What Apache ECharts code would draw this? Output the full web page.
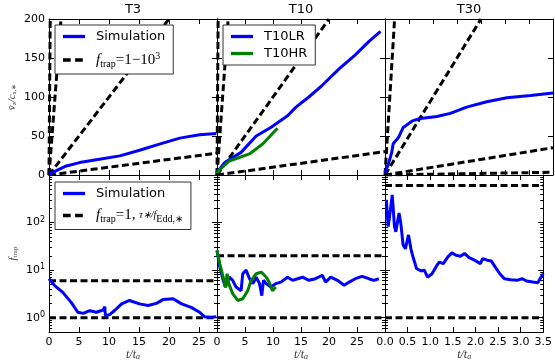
<!DOCTYPE html>
<html>
<head>
<meta charset="utf-8">
<script src="https://cdn.jsdelivr.net/npm/echarts@6/dist/echarts.min.js"></script>
<style>
html, body { margin: 0; padding: 0; background: #fff; }
#main { width: 555px; height: 364px; }
</style>
</head>
<body>
<div id="main"></div>
<script>
// panels (columns)
var titles = ['T3', 'T10', 'T30'];
var xMax = [28, 30, 3.5];
var xStep = [5, 5, 0.5];

// top row: mean vz / c_s,* against t/t_a
var t3Time = [0, 0.1, 2.9, 5.1, 8.4, 11.8, 15.1, 18.4, 21.8, 25.1, 27.9];
var t3Vz = [1, 2, 11.6, 15.9, 20.2, 24.5, 31.8, 39.6, 47.3, 51.6, 53.3];
var t10lrTime = [0, 0.2, 1.4, 4.3, 7, 9.6, 12.6, 14.1, 16.4, 18.8, 21.8, 24.7, 27.1, 29.2];
var t10lrVz = [2, 5, 16, 29, 50, 61, 76, 87, 100, 115, 136, 154, 171, 184];
var t10hrTime = [0, 0.2, 2.2, 5.8, 8.2, 10.8];
var t10hrVz = [2, 5, 18, 27, 40, 60];
var t30Time = [0, 0.07, 0.14, 0.17, 0.28, 0.38, 0.56, 0.7, 1.08, 1.36, 1.7, 2.12, 2.54, 3.03, 3.5];
var t30Vz = [3, 14, 29, 40, 48, 61, 69, 72, 75, 79, 87, 94, 99, 102, 105];

// f_trap = 1, 10, 100, 1000 guide lines: [t0, v0, t1, v1]
var t3Guides = [[0, 0, 28, 28], [0, 0, 20, 200], [0, 0, 2, 200], [0, 0, 0.2, 200]];
var t10Guides = [[0, 0, 30, 30], [0, 0, 20, 200], [0, 0, 2, 200], [0, 0, 0.2, 200]];
var t30Guides = [[0, 0, 3.5, 3.5], [0, 0, 3.5, 35], [0, 0, 2, 200], [0, 0, 0.2, 200]];

// bottom row: f_trap against t/t_a
var t3fTime = [0, 0.9, 2.3, 3.7, 4.8, 5.7, 6.8, 7.9, 9, 9.3, 9.4, 10.1, 10.9, 12.1, 13.4, 15.1, 16.5, 17.9, 19, 20.7, 22.1, 23.7, 25.1, 25.9, 27, 27.9];
var t3fTrap = [6.6, 4.8, 3.4, 2.1, 1.3, 1.23, 1.4, 1.3, 1.45, 1.7, 1.1, 1.16, 1.4, 1.95, 2.3, 1.95, 1.8, 2.0, 2.4, 2.5, 1.95, 1.65, 1.3, 1.05, 1.02, 1.05];
var t10lrfTime = [0, 0.5, 1.1, 1.5, 2.2, 2.8, 3.4, 4.3, 4.6, 5.2, 5.8, 6.4, 7, 7.6, 8, 8.3, 8.8, 9.6, 10.5, 11.4, 12.6, 13.5, 14.4, 15.3, 16.4, 17.6, 18.8, 19.4, 20.3, 21.5, 22.7, 23.6, 24.7, 25.9, 27.1, 28, 28.9];
var t10lrfTrap = [26, 11.7, 6.1, 4.4, 7.1, 6.1, 4.4, 3.7, 8.4, 10, 6.6, 5.2, 7.1, 5.2, 2.9, 6.1, 5.2, 4.4, 5.2, 5.6, 7.1, 6.1, 6.6, 7.1, 6.1, 6.6, 7.8, 5.6, 7.1, 6.1, 4.8, 5.6, 6.6, 7.4, 6.6, 6.1, 6.6];
var t10hrfTime = [0, 0.5, 1.1, 1.5, 1.8, 2.1, 2.8, 3.7, 4.6, 5.5, 6.1, 7, 7.9, 8.8, 9.3, 9.9, 10.5];
var t10hrfTrap = [26, 13.7, 7.1, 4.4, 8.4, 5.2, 3.2, 2.3, 2.5, 3.7, 6.1, 8.4, 9.1, 7.1, 5.6, 3.7, 4.4];
var t30fTime = [0.03, 0.07, 0.12, 0.16, 0.21, 0.24, 0.31, 0.35, 0.4, 0.45, 0.52, 0.58, 0.63, 0.7, 0.8, 0.87, 0.94, 1.04, 1.15, 1.2, 1.29, 1.39, 1.48, 1.57, 1.67, 1.76, 1.86, 1.98, 2.11, 2.16, 2.26, 2.35, 2.44, 2.54, 2.64, 2.78, 2.92, 3.03, 3.13, 3.27, 3.38, 3.43, 3.5];
var t30fTrap = [302, 82, 186, 382, 82, 64, 158, 96, 34, 28, 55, 26, 17.5, 10.7, 9.6, 10, 7.1, 8.4, 12.6, 14.8, 13.7, 19, 23, 20.6, 19.6, 22.4, 18.3, 16.2, 13.7, 17.5, 16.2, 15.6, 11.6, 8.4, 6.6, 6.3, 6.1, 6.6, 5.9, 5.6, 5.4, 6.6, 8.4];

// horizontal f_trap = 1 and tau_*/f_Edd,* levels
var t3Levels = [1, 6];
var t10Levels = [1, 20];
var t30Levels = [1, 600];

var yTop = [0, 200];
var yLog = [0.5, 1000];

var gridLeft = [49, 217, 385];
var rowTop = [19, 175];
var rowHeight = [156, 157];

var solidIcon = 'path://M0,0H20V3H0Z';
var dashIcon = 'path://M0,0H7V3H0Z M11,0H18V3H11Z M20,0H20V3H20Z';

var mathFont = 'Liberation Serif';
var mathRich = {
    m: { fontFamily: mathFont, fontStyle: 'italic', fontSize: 15, color: '#000', lineHeight: 18 },
    r: { fontFamily: mathFont, fontSize: 15, color: '#000', lineHeight: 18 },
    sub: { fontFamily: mathFont, fontSize: 10, color: '#000', lineHeight: 12, verticalAlign: 'bottom' },
    sup: { fontFamily: mathFont, fontSize: 10, color: '#000', lineHeight: 12, verticalAlign: 'top' },
    fr: { fontFamily: mathFont, fontStyle: 'italic', fontSize: 10, color: '#000', lineHeight: 18 }
};
var legendText = {
    'Simulation': 'Simulation',
    'T10LR': 'T10LR',
    'T10HR': 'T10HR',
    'ftrapTop': '{m|f}{sub|trap}{r|=1\u221210}{sup|3}',
    'ftrapBottom': '{m|f}{sub|trap}{r|=1, }{fr|\u03c4\u2217/f}{sub|Edd,\u2217}'
};

function pairs(xs, ys) {
    return xs.map(function (x, i) { return [x, ys[i]]; });
}

var grids = [], xAxes = [], yAxes = [], series = [];

function makeAxes(col, row) {
    var gi = grids.length;
    grids.push({ left: gridLeft[col], top: rowTop[row], width: 168, height: rowHeight[row] });
    var tick = { show: true, inside: true, length: 5, lineStyle: { color: '#000', width: 1 } };
    var line = { show: true, onZero: false, lineStyle: { color: '#000', width: 1 } };
    for (var k = 0; k < 2; k++) {
        var bottomLabels = (row === 1 && k === 0);
        xAxes.push({
            gridIndex: gi, type: 'value', position: k === 0 ? 'bottom' : 'top',
            min: 0, max: xMax[col], interval: xStep[col],
            axisLine: line, axisTick: tick, splitLine: { show: false },
            axisLabel: {
                show: bottomLabels, color: '#000', fontFamily: 'DejaVu Sans', fontSize: 11, margin: 5,
                showMaxLabel: col === 2,
                formatter: function (v) { return col === 2 ? v.toFixed(1) : String(v); }
            },
            name: bottomLabels ? '{v|t/t}{s|a}' : '',
            nameLocation: 'middle', nameGap: 17,
            nameTextStyle: {
                rich: {
                    v: { fontFamily: mathFont, fontStyle: 'italic', fontSize: 12, color: '#333' },
                    s: { fontFamily: mathFont, fontStyle: 'italic', fontSize: 8, color: '#333', verticalAlign: 'bottom', lineHeight: 10 }
                }
            }
        });
        var leftLabels = (col === 0 && k === 0);
        var y = {
            gridIndex: gi, position: k === 0 ? 'left' : 'right',
            axisLine: line, axisTick: tick, splitLine: { show: false },
            nameLocation: 'middle', nameRotate: 90
        };
        if (row === 0) {
            y.type = 'value';
            y.min = yTop[0];
            y.max = yTop[1];
            y.interval = 50;
            y.axisLabel = { show: leftLabels, color: '#000', fontFamily: 'DejaVu Sans', fontSize: 11, margin: 4 };
            y.name = leftLabels ? '{v|v\u0304}{s|z}{v|/c}{s|s,\u2217}' : '';
            y.nameGap = 31;
        } else {
            y.type = 'log';
            y.logBase = 10;
            y.min = yLog[0];
            y.max = yLog[1];
            y.minorTick = { show: true, splitNumber: 9, length: 3, lineStyle: { color: '#000', width: 1 } };
            y.minorSplitLine = { show: false };
            y.axisLabel = {
                show: leftLabels, color: '#000', fontFamily: 'DejaVu Sans', fontSize: 11, margin: 4,
                showMinLabel: false, showMaxLabel: false,
                formatter: function (v) { return '10{sup|' + Math.round(Math.log10(v)) + '}'; },
                rich: { sup: { fontFamily: 'DejaVu Sans', fontSize: 8, color: '#000', verticalAlign: 'top', lineHeight: 14 } }
            };
            y.name = leftLabels ? '{v|f}{s|trap}' : '';
            y.nameGap = 30;
        }
        y.nameTextStyle = {
            rich: {
                v: { fontFamily: mathFont, fontStyle: 'italic', fontSize: 11, color: '#444' },
                s: { fontFamily: mathFont, fontSize: 7, color: '#444', verticalAlign: 'bottom', lineHeight: 9 }
            }
        };
        yAxes.push(y);
    }
    return 2 * gi;
}

function addLine(idx, name, data, color, width, dashed, z) {
    series.push({
        type: 'line', name: name, data: data,
        xAxisIndex: idx, yAxisIndex: idx,
        symbol: 'none', showSymbol: false, clip: true, z: z,
        lineStyle: { color: color, width: width, type: dashed ? [7, 3.5] : 'solid' },
        itemStyle: { color: color },
        emphasis: { disabled: true }
    });
}

var topSets = [
    { guides: t3Guides, sims: [['Simulation', t3Time, t3Vz, '#0000ff']] },
    { guides: t10Guides, sims: [['T10LR', t10lrTime, t10lrVz, '#0000ff'], ['T10HR', t10hrTime, t10hrVz, '#008000']] },
    { guides: t30Guides, sims: [['Simulation', t30Time, t30Vz, '#0000ff']] }
];
var bottomSets = [
    { levels: t3Levels, sims: [['Simulation', t3fTime, t3fTrap, '#0000ff']] },
    { levels: t10Levels, sims: [['T10LR', t10lrfTime, t10lrfTrap, '#0000ff'], ['T10HR', t10hrfTime, t10hrfTrap, '#008000']] },
    { levels: t30Levels, sims: [['Simulation', t30fTime, t30fTrap, '#0000ff']] }
];

for (var c = 0; c < 3; c++) {
    var ti = makeAxes(c, 0);
    topSets[c].sims.forEach(function (s) {
        addLine(ti, s[0], pairs(s[1], s[2]), s[3], 3, false, 3);
    });
    topSets[c].guides.forEach(function (g) {
        addLine(ti, 'ftrapTop', [[g[0], g[1]], [g[2], g[3]]], '#000', 3, true, 2);
    });
}
for (var c2 = 0; c2 < 3; c2++) {
    var bi = makeAxes(c2, 1);
    bottomSets[c2].sims.forEach(function (s) {
        addLine(bi, s[0], pairs(s[1], s[2]), s[3], 3, false, 3);
    });
    bottomSets[c2].levels.forEach(function (lv) {
        addLine(bi, 'ftrapBottom', [[0, lv], [xMax[c2], lv]], '#000', 3, true, 2);
    });
}

function legendAt(left, top, names, gap) {
    return {
        left: left, top: top, orient: 'vertical',
        data: names.map(function (n) {
            return { name: n, icon: n.indexOf('ftrap') === 0 ? dashIcon : solidIcon };
        }),
        backgroundColor: '#fff', borderColor: '#333', borderWidth: 1, borderRadius: 0,
        padding: [5, 8, 5, 8], itemWidth: 22, itemHeight: 14, itemGap: gap,
        selectedMode: false,
        textStyle: { fontFamily: 'DejaVu Sans', fontSize: 13, color: '#000', padding: [0, 0, 0, 6], rich: mathRich },
        formatter: function (n) { return legendText[n]; }
    };
}

var chart = echarts.init(document.getElementById('main'), null, { renderer: 'canvas' });
chart.setOption({
    animation: false,
    backgroundColor: '#fff',
    title: titles.map(function (t, i) {
        return {
            text: t, left: gridLeft[i] + 84, top: 3, textAlign: 'center', padding: 0,
            textStyle: { fontFamily: 'DejaVu Sans', fontSize: 13, fontWeight: 'normal', color: '#000' }
        };
    }),
    legend: [
        legendAt(55, 25, ['Simulation', 'ftrapTop'], 8),
        legendAt(223, 25, ['T10LR', 'T10HR'], 4),
        legendAt(55, 182, ['Simulation', 'ftrapBottom'], 8)
    ],
    grid: grids,
    xAxis: xAxes,
    yAxis: yAxes,
    series: series
});
</script>
</body>
</html>
